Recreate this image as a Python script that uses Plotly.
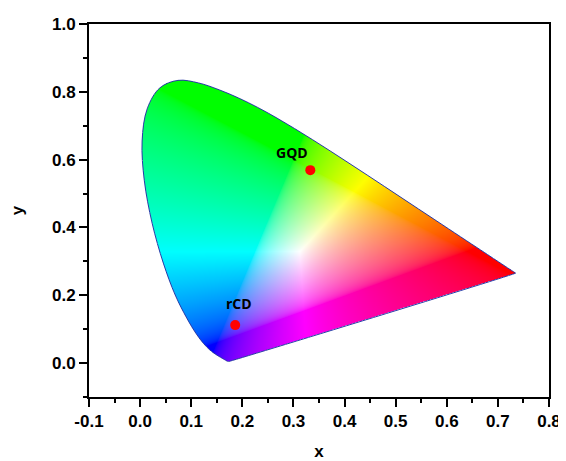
import base64, struct, zlib
import numpy as np
import plotly.graph_objects as go

# CIE 1931 2-degree spectral locus, 380-700 nm in 5 nm steps
locus_x = [0.1741, 0.1740, 0.1738, 0.1736, 0.1733, 0.1730, 0.1726, 0.1721, 0.1714, 0.1703,
           0.1689, 0.1669, 0.1644, 0.1611, 0.1566, 0.1510, 0.1440, 0.1355, 0.1241, 0.1096,
           0.0913, 0.0687, 0.0454, 0.0235, 0.0082, 0.0039, 0.0139, 0.0389, 0.0743, 0.1142,
           0.1547, 0.1929, 0.2296, 0.2658, 0.3016, 0.3373, 0.3731, 0.4087, 0.4441, 0.4788,
           0.5125, 0.5448, 0.5752, 0.6029, 0.6270, 0.6482, 0.6658, 0.6801, 0.6915, 0.7006,
           0.7079, 0.7140, 0.7190, 0.7230, 0.7260, 0.7283, 0.7300, 0.7311, 0.7320, 0.7327,
           0.7334, 0.7340, 0.7344, 0.7346, 0.7347]
locus_y = [0.0050, 0.0050, 0.0049, 0.0049, 0.0048, 0.0048, 0.0048, 0.0048, 0.0051, 0.0058,
           0.0069, 0.0086, 0.0109, 0.0138, 0.0177, 0.0227, 0.0297, 0.0399, 0.0578, 0.0868,
           0.1327, 0.2007, 0.2950, 0.4127, 0.5384, 0.6548, 0.7502, 0.8120, 0.8338, 0.8262,
           0.8059, 0.7816, 0.7543, 0.7243, 0.6923, 0.6589, 0.6245, 0.5896, 0.5547, 0.5202,
           0.4866, 0.4544, 0.4242, 0.3965, 0.3725, 0.3514, 0.3340, 0.3197, 0.3083, 0.2993,
           0.2920, 0.2859, 0.2809, 0.2770, 0.2740, 0.2717, 0.2700, 0.2689, 0.2680, 0.2673,
           0.2666, 0.2660, 0.2656, 0.2654, 0.2653]

# Sample points
sample_names = ["GQD", "rCD"]
sample_x = [0.333, 0.186]
sample_y = [0.569, 0.112]
label_x = [0.298, 0.194]
label_y = [0.622, 0.177]

# Axis tick labels
x_tickvals = [-0.1, 0.0, 0.1, 0.2, 0.3, 0.4, 0.5, 0.6, 0.7, 0.8]
x_ticktext = ["-0.1", "0.0", "0.1", "0.2", "0.3", "0.4", "0.5", "0.6", "0.7", "0.8"]
y_tickvals = [0.0, 0.2, 0.4, 0.6, 0.8, 1.0]
y_ticktext = ["0.0", "0.2", "0.4", "0.6", "0.8", "1.0"]

# ---- smooth outline used only for rendering the fill mask (Catmull-Rom, like the spline line) ----
def catmull(xp, yp, n=12):
    P = np.column_stack([xp, yp])
    P = np.vstack([P[0], P, P[-1]])
    out = []
    for i in range(1, len(P) - 2):
        p0, p1, p2, p3 = P[i - 1], P[i], P[i + 1], P[i + 2]
        for t in np.linspace(0, 1, n, endpoint=False):
            t2, t3 = t * t, t * t * t
            out.append(0.5 * ((2 * p1) + (-p0 + p2) * t + (2 * p0 - 5 * p1 + 4 * p2 - p3) * t2
                              + (-p0 + 3 * p1 - 3 * p2 + p3) * t3))
    out.append(P[-2])
    return np.array(out)

curve = catmull(locus_x, locus_y)

# ---- build chromaticity image ----
STEP = 0.001
X0, X1, Y0, Y1 = 0.0, 0.74, 0.0, 0.84
xs = np.arange(X0, X1, STEP) + STEP / 2
ys = (np.arange(Y0, Y1, STEP) + STEP / 2)[::-1]  # top row first
gx, gy = np.meshgrid(xs, ys)

px = np.append(curve[:, 0], curve[0, 0])
py = np.append(curve[:, 1], curve[0, 1])
inside = np.zeros(gx.shape, dtype=bool)
for i in range(len(px) - 1):
    xa, ya, xb, yb = px[i], py[i], px[i + 1], py[i + 1]
    if ya == yb:
        continue
    lo, hi = min(ya, yb), max(ya, yb)
    rows = (ys > lo) & (ys <= hi)
    if not rows.any():
        continue
    sub_y = gy[rows]
    xint = xa + (sub_y - ya) * (xb - xa) / (yb - ya)
    inside[rows] ^= gx[rows] < xint

X = gx / gy
Yv = np.ones_like(gx)
Z = (1 - gx - gy) / gy
R = 3.2406 * X - 1.5372 * Yv - 0.4986 * Z
G = -0.9689 * X + 1.8758 * Yv + 0.0415 * Z
B = 0.0557 * X - 0.2040 * Yv + 1.0570 * Z
rgb = np.clip(np.stack([R, G, B], axis=-1), 0, None)
rgb = rgb / np.maximum(rgb.max(axis=-1, keepdims=True), 1e-9)
rgb = np.where(rgb <= 0.0031308, 12.92 * rgb, 1.055 * np.power(rgb, 1 / 2.4) - 0.055)
img = np.zeros(gx.shape + (4,), dtype=np.uint8)
img[..., :3] = np.clip(rgb * 255, 0, 255).astype(np.uint8)
img[..., 3] = np.where(inside, 255, 0).astype(np.uint8)


def png_bytes(a):
    h, w, _ = a.shape
    raw = b"".join(b"\x00" + a[r].tobytes() for r in range(h))

    def chunk(t, d):
        return struct.pack(">I", len(d)) + t + d + struct.pack(">I", zlib.crc32(t + d) & 0xffffffff)

    return (b"\x89PNG\r\n\x1a\n" + chunk(b"IHDR", struct.pack(">IIBBBBB", w, h, 8, 6, 0, 0, 0))
            + chunk(b"IDAT", zlib.compress(raw, 9)) + chunk(b"IEND", b""))


uri = "data:image/png;base64," + base64.b64encode(png_bytes(img)).decode()

fig = go.Figure()
fig.add_layout_image(dict(source=uri, xref="x", yref="y", x=X0, y=Y1,
                          sizex=X1 - X0, sizey=Y1 - Y0, sizing="stretch",
                          xanchor="left", yanchor="top", layer="below"))

fig.add_trace(go.Scatter(x=locus_x + [locus_x[0]], y=locus_y + [locus_y[0]], mode="lines",
                         line=dict(color="#2a3aa8", width=1, shape="spline", smoothing=1.0),
                         hoverinfo="skip", showlegend=False))
fig.add_trace(go.Scatter(x=sample_x, y=sample_y, mode="markers",
                         marker=dict(color="#ff0000", size=10), showlegend=False))
for n, lx, ly in zip(sample_names, label_x, label_y):
    fig.add_annotation(x=lx, y=ly, text="<b>%s</b>" % n, showarrow=False,
                       font=dict(family="Open Sans", size=14, color="black"))

tickfont = dict(family="Liberation Sans", size=17, color="black", weight="bold")
axis_common = dict(showline=True, linecolor="black", linewidth=2, mirror=True,
                   ticks="outside", ticklen=8, tickwidth=2, tickcolor="black",
                   showgrid=False, zeroline=False, tickfont=tickfont)
fig.update_xaxes(range=[-0.1, 0.8], tickmode="array", tickvals=x_tickvals, ticktext=x_ticktext,
                 minor=dict(dtick=0.05, tick0=0, ticks="outside", ticklen=4, tickwidth=2, tickcolor="black"),
                 title=dict(text="<b>x</b>", font=dict(family="Liberation Sans", size=17, color="black"), standoff=17),
                 **axis_common)
fig.update_yaxes(range=[-0.1, 1.0], tickmode="array", tickvals=y_tickvals, ticktext=y_ticktext,
                 minor=dict(dtick=0.1, tick0=0, ticks="outside", ticklen=4, tickwidth=2, tickcolor="black"),
                 title=dict(text="<b>y</b>", font=dict(family="Liberation Sans", size=17, color="black"), standoff=27),
                 **axis_common)
# page body has an 8px margin, so the figure is offset by 8px
fig.update_layout(width=558, height=453, margin=dict(l=81, r=17, t=16, b=64, autoexpand=False),
                  paper_bgcolor="white", plot_bgcolor="white", font=dict(family="Liberation Sans"))
fig.write_html("out.html")
